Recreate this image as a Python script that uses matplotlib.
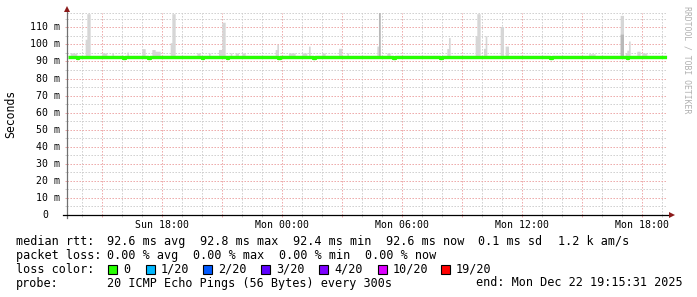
import matplotlib
matplotlib.use("Agg")
import matplotlib.pyplot as plt
import matplotlib.dates as mdates
from matplotlib.patches import Rectangle
from matplotlib.ticker import MultipleLocator, FixedLocator, NullFormatter
import numpy as np
import pandas as pd

# ---------------- data ----------------
end_time = "2025-12-22 19:15:31"
span_hours = 30
first_sample = "2025-12-21 13:20"
last_sample = "2025-12-22 19:15"
step_minutes = 5

median_base_ms = 92.6
median_dev_time = ["2025-12-21 13:50", "2025-12-21 16:10", "2025-12-21 17:25",
                   "2025-12-21 20:05", "2025-12-21 21:20", "2025-12-21 23:55",
                   "2025-12-22 01:40", "2025-12-22 03:00", "2025-12-22 05:40",
                   "2025-12-22 08:00", "2025-12-22 13:30", "2025-12-22 17:20"]
median_dev_ms = [92.2, 92.2, 92.1, 92.3, 92.2, 92.3, 92.2, 92.9, 92.2, 92.3, 92.2, 92.2]

smoke_floor_ms = 92.0
smoke_base_ms = 93.6
smoke_time = [
    "2025-12-21 13:30", "2025-12-21 13:35", "2025-12-21 13:40", "2025-12-21 13:45",
    "2025-12-21 14:15", "2025-12-21 14:20", "2025-12-21 14:25",
    "2025-12-21 15:05", "2025-12-21 15:10", "2025-12-21 15:15", "2025-12-21 15:35",
    "2025-12-21 16:20", "2025-12-21 17:05", "2025-12-21 17:10",
    "2025-12-21 17:35", "2025-12-21 17:40", "2025-12-21 17:45", "2025-12-21 17:50",
    "2025-12-21 17:55", "2025-12-21 18:30", "2025-12-21 18:35", "2025-12-21 18:40",
    "2025-12-21 19:50", "2025-12-21 19:55", "2025-12-21 20:25",
    "2025-12-21 20:55", "2025-12-21 21:00", "2025-12-21 21:05", "2025-12-21 21:10",
    "2025-12-21 21:30", "2025-12-21 21:45", "2025-12-21 21:50", "2025-12-21 22:05",
    "2025-12-21 22:10", "2025-12-21 23:45", "2025-12-21 23:50",
    "2025-12-22 00:25", "2025-12-22 00:30", "2025-12-22 00:35", "2025-12-22 00:40",
    "2025-12-22 01:05", "2025-12-22 01:10", "2025-12-22 01:15", "2025-12-22 01:25",
    "2025-12-22 02:05", "2025-12-22 02:10", "2025-12-22 02:55", "2025-12-22 03:00",
    "2025-12-22 03:20", "2025-12-22 04:50", "2025-12-22 04:55",
    "2025-12-22 05:20", "2025-12-22 05:25", "2025-12-22 08:20", "2025-12-22 08:25",
    "2025-12-22 09:45", "2025-12-22 09:50", "2025-12-22 09:55",
    "2025-12-22 10:10", "2025-12-22 10:15", "2025-12-22 11:00", "2025-12-22 11:05",
    "2025-12-22 11:15", "2025-12-22 11:20",
    "2025-12-22 15:25", "2025-12-22 15:30", "2025-12-22 15:35", "2025-12-22 15:40",
    "2025-12-22 17:00", "2025-12-22 17:05", "2025-12-22 17:15", "2025-12-22 17:20",
    "2025-12-22 17:25", "2025-12-22 17:50", "2025-12-22 17:55",
    "2025-12-22 18:05", "2025-12-22 18:10", "2025-12-22 18:15",
]
smoke_top_ms = [
    95, 95, 94.8, 95,
    103, 118, 118,
    95, 95, 95, 95,
    95.5, 97.5, 97.5,
    97, 97, 96, 96,
    96, 101, 118, 118,
    95, 95, 95,
    97, 97, 113, 113,
    95, 95, 95, 95,
    95, 97, 100,
    95, 95, 95, 95,
    95, 95, 95, 99,
    95, 95, 97.7, 97.7,
    95, 99, 119,
    95, 95, 97.6, 104,
    105, 118, 118,
    97.7, 105, 110.5, 110.5,
    99, 99,
    94.5, 94.5, 94.5, 94.5,
    117, 117, 95, 96.6,
    102, 96, 96,
    95, 95, 95,
]
smoke_core_time = ["2025-12-22 04:55", "2025-12-22 17:00", "2025-12-22 17:05"]
smoke_core_ms = [119, 106, 106]

y_ticks = [0, 10, 20, 30, 40, 50, 60, 70, 80, 90, 100, 110]
y_tick_labels = ["0", "10 m", "20 m", "30 m", "40 m", "50 m", "60 m", "70 m",
                 "80 m", "90 m", "100 m", "110 m"]
y_max = 118.4

x_label_times = ["2025-12-21 18:00", "2025-12-22 00:00", "2025-12-22 06:00",
                 "2025-12-22 12:00", "2025-12-22 18:00"]
x_tick_labels = ["Sun 18:00", "Mon 00:00", "Mon 06:00", "Mon 12:00", "Mon 18:00"]

loss_labels = ["0", "1/20", "2/20", "3/20", "4/20", "10/20", "19/20"]
loss_colors = ["#26ff00", "#00b8ff", "#0059ff", "#5e00ff", "#7e00ff", "#dd00ff", "#ff0000"]

stats_median = ["92.6 ms avg", "92.8 ms max", "92.4 ms min", "92.6 ms now",
                "0.1 ms sd", "1.2 k am/s"]
stats_loss = ["0.00 % avg", "0.00 % max", "0.00 % min", "0.00 % now"]
probe_text = "20 ICMP Echo Pings (56 Bytes) every 300s"
end_text = "end: Mon Dec 22 19:15:31 2025"

# ---------------- build series ----------------
times = pd.date_range(first_sample, last_sample, freq=f"{step_minutes}min")
median = pd.Series(median_base_ms, index=times)
median.loc[pd.to_datetime(median_dev_time)] = median_dev_ms
smoke_top = pd.Series(smoke_base_ms, index=times)
smoke_top.loc[pd.to_datetime(smoke_time)] = smoke_top_ms
smoke_core = pd.Series(smoke_floor_ms, index=times)
smoke_core.loc[pd.to_datetime(smoke_core_time)] = smoke_core_ms

t_end = pd.Timestamp(end_time)
t_start = t_end - pd.Timedelta(hours=span_hours)

# ---------------- figure ----------------
W, H = 697, 297
MONO = "DejaVu Sans Mono"
fig = plt.figure(figsize=(W / 100, H / 100), dpi=100)
fig.patch.set_facecolor("white")

def fx(px):
    return px / W

def fy(py):
    return 1 - py / H

ax = fig.add_axes([fx(67), fy(215), 600 / W, 202 / H])
ax.set_facecolor("white")

MAJ = "#eda4a4"
MIN = "#cdcdcd"
dot = (0, (1.4, 1.6))

ax.set_xlim(t_start, t_end)
ax.set_ylim(0, y_max)

major_x = pd.date_range("2025-12-21 15:00", "2025-12-22 18:00", freq="3h")
minor_x = pd.date_range("2025-12-21 14:00", "2025-12-22 19:00", freq="1h")
ax.xaxis.set_major_locator(FixedLocator(mdates.date2num(major_x)))
ax.xaxis.set_minor_locator(FixedLocator(mdates.date2num(minor_x)))
ax.xaxis.set_major_formatter(NullFormatter())
ax.yaxis.set_major_locator(FixedLocator(y_ticks))
ax.yaxis.set_minor_locator(MultipleLocator(5))
ax.yaxis.set_major_formatter(NullFormatter())

ax.grid(which="minor", color=MIN, linestyle=dot, linewidth=0.72, snap=True)
ax.grid(which="major", color=MAJ, linestyle=dot, linewidth=0.72, snap=True)
ax.set_axisbelow(True)
ax.axhline(y_max, color=MIN, linestyle=dot, linewidth=0.72, clip_on=False, snap=True)

ax.tick_params(which="major", length=1.6, width=0.72, color=MAJ, direction="out")
ax.tick_params(which="minor", length=1.6, width=0.72, color=MIN, direction="out")

for s in ax.spines.values():
    s.set_visible(False)

# smoke
ax.fill_between(times, smoke_floor_ms, smoke_top.values, step="pre",
                color="#d6d6d6", linewidth=0, zorder=2)
ax.fill_between(times, smoke_floor_ms, smoke_core.values, step="pre",
                color="#b8b8b8", linewidth=0, zorder=2.1)
# median line
ax.step(times, median.values, where="pre", color=loss_colors[0], linewidth=2.4,
        zorder=3, solid_capstyle="butt")

# axis lines + arrows
ax.plot([0, 0], [-3 / 202, 1.015], transform=ax.transAxes, color="#707070",
        lw=0.9, clip_on=False, zorder=5)
ax.plot([-4 / 600, 1.005], [0, 0], transform=ax.transAxes, color="black",
        lw=0.9, clip_on=False, zorder=5)
ax.plot([0], [1.02], marker="^", ms=4.2, color="#8b1a1a", transform=ax.transAxes,
        clip_on=False, zorder=6, markeredgewidth=0)
ax.plot([1.008], [0], marker=">", ms=4.2, color="#8b1a1a", transform=ax.transAxes,
        clip_on=False, zorder=6, markeredgewidth=0)

# y tick labels
for v, lab in zip(y_ticks, y_tick_labels):
    extra = 0 if " m" in lab else 12
    ax.annotate(lab, xy=(0, v), xycoords=ax.get_yaxis_transform(),
                xytext=(-7 - extra, 0), textcoords="offset pixels",
                ha="right", va="center", fontsize=7.1, family=MONO, color="black")

# x tick labels
for t, lab in zip(x_label_times, x_tick_labels):
    ax.annotate(lab, xy=(mdates.date2num(pd.Timestamp(t)), 0),
                xycoords=ax.get_xaxis_transform(), xytext=(0, -10),
                textcoords="offset pixels", ha="center", va="center",
                fontsize=7.1, family=MONO, color="black")

# y axis label
fig.text(fx(11), fy(114), "Seconds", rotation=90, ha="center", va="center",
         fontsize=8.3, family=MONO)

# watermark
fig.text(fx(687), fy(60), "RRDTOOL / TOBI OETIKER", rotation=-90, ha="center",
         va="center", fontsize=5.9, family=MONO, color="#b0b0b0")

# legend text
FS = 8.45
def ftxt(px, py, s, **kw):
    fig.text(fx(px), fy(py), s, ha="left", va="center", fontsize=FS,
             family=MONO, **kw)

ftxt(16, 241.5, "median rtt:")
for px, s in zip([107, 200, 293, 386, 478, 558], stats_median):
    ftxt(px, 241.5, s)
ftxt(16, 255.5, "packet loss:")
for px, s in zip([107, 193, 279, 365], stats_loss):
    ftxt(px, 255.5, s)
ftxt(16, 269.5, "loss color:")
box_x = [108, 146, 203, 261, 319, 378, 441]
for bx, lab, col in zip(box_x, loss_labels, loss_colors):
    fig.patches.append(Rectangle((fx(bx), fy(273.5)), 9 / W, 9 / H,
                                 transform=fig.transFigure, facecolor=col,
                                 edgecolor="black", linewidth=0.8))
    ftxt(bx + 15, 269.5, lab)
ftxt(16, 283, "probe:")
ftxt(107, 283, probe_text)
ftxt(476, 283, end_text)

fig.savefig("out.png", dpi=100, facecolor="white")
